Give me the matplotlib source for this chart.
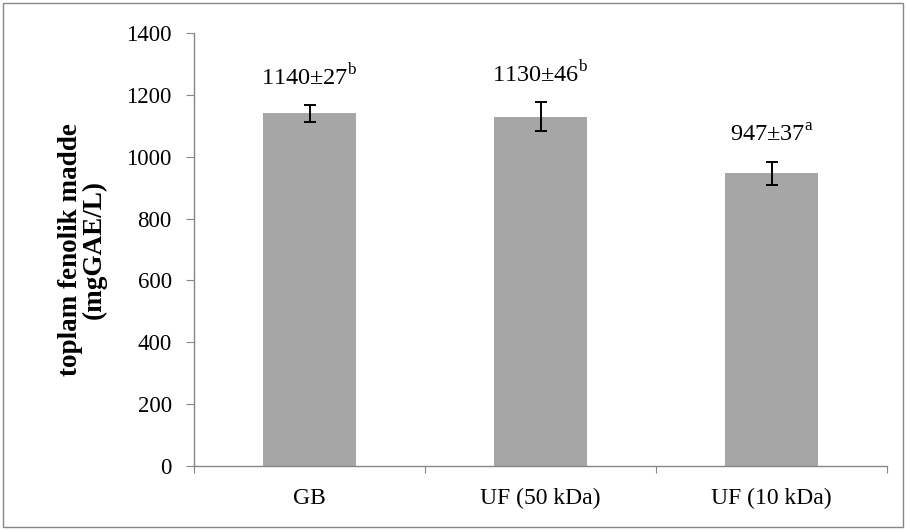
import matplotlib
matplotlib.use("Agg")
import matplotlib.pyplot as plt
from matplotlib.patches import Rectangle

categories = ["GB", "UF (50 kDa)", "UF (10 kDa)"]
values = [1140, 1130, 947]
errors = [27, 46, 37]
letters = ["b", "b", "a"]
yticks = [0, 200, 400, 600, 800, 1000, 1200, 1400]

plt.rcParams['font.family'] = ['Liberation Serif', 'DejaVu Serif']
plt.rcParams['mathtext.fontset'] = 'custom'
plt.rcParams['mathtext.rm'] = 'Liberation Serif'

W, H = 906, 530
fig = plt.figure(figsize=(W / 100, H / 100), dpi=100)
ax = fig.add_axes([194 / W, 1 - 466 / H, (887 - 194) / W, (466 - 33) / H])

x = list(range(len(categories)))
ax.bar(x, values, width=0.40, color="#A6A6A6", zorder=2)
ax.errorbar(x, values, yerr=errors, fmt='none', ecolor='black', elinewidth=1.4,
            capsize=4.3, capthick=1.4, zorder=3)

for xi, v, e, l in zip(x, values, errors, letters):
    ax.annotate(f"{v}±{e}" + r"$^{\mathrm{" + l + "}}$", (xi, v + e),
                xytext=(0, 14.5), textcoords='offset points', ha='center', va='baseline',
                fontsize=17.5)

ax.set_xlim(-0.5, 2.5)
ax.set_ylim(0, 1400)
ax.set_yticks(yticks)
ax.set_yticklabels([str(t) for t in yticks], fontsize=16.5)
ax.set_xticks([-0.5, 0.5, 1.5, 2.5])
ax.set_xticklabels([])
ax.set_xticks(x, minor=True)
ax.set_xticklabels(categories, minor=True, fontsize=17)
ax.tick_params(axis='x', which='major', length=5, direction='out', color='#868686')
ax.tick_params(axis='x', which='minor', length=0, pad=16)
ax.tick_params(axis='y', length=6, direction='out', color='#868686', pad=10)

for s in ['top', 'right']:
    ax.spines[s].set_visible(False)
for s in ['left', 'bottom']:
    ax.spines[s].set_color('#868686')
    ax.spines[s].set_linewidth(1.0)

ax.set_ylabel("toplam fenolik madde\n(mgGAE/L)", fontsize=19.5, fontweight='bold',
              labelpad=14, linespacing=0.95)

fig.add_artist(Rectangle((3 / W, 3 / H), (W - 6) / W, (H - 6) / H, transform=fig.transFigure,
                         fill=False, edgecolor='#868686', linewidth=1.0))

fig.savefig("out.png", dpi=100)
